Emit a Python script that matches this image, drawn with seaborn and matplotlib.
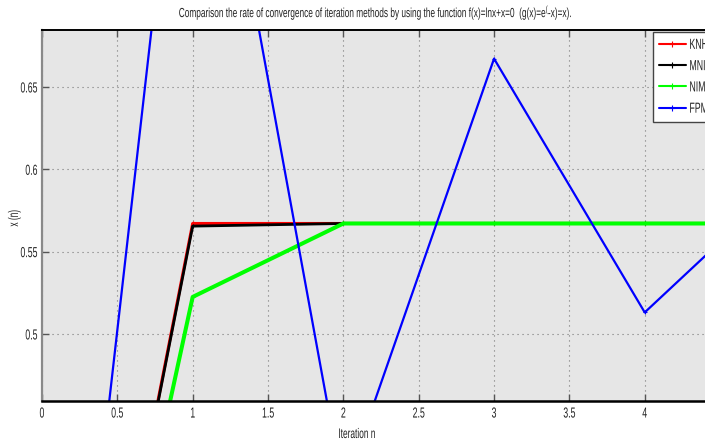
import matplotlib
matplotlib.use("Agg")
import matplotlib.pyplot as plt
import matplotlib.ticker as mticker
from matplotlib.patheffects import AbstractPathEffect
from matplotlib.transforms import Affine2D
import seaborn as sns
import pandas as pd

# Iteration index and the iterates x(n) of each method
iterations = [0, 1, 2, 3, 4, 5]
knhm = [0.1, 0.5671, 0.5671, 0.5671, 0.5671, 0.5671]
mnim = [0.1, 0.5655, 0.5671, 0.5671, 0.5671, 0.5671]
nim = [0.1, 0.5225, 0.5671, 0.5671, 0.5671, 0.5671]
fpm = [0.1, 0.9048, 0.4046, 0.6672, 0.5131, 0.5986]

method_names = ["KNHM", "MNIM", "NIM", "FPM"]
x_ticks = [0, 0.5, 1, 1.5, 2, 2.5, 3, 3.5, 4]
y_ticks = [0.5, 0.55, 0.6, 0.65]

TITLE = ("Comparison the rate of convergence of iteration methods by using the function "
         r"f(x)=lnx+x=0  (g(x)=$\mathregular{e^(}$-x)=x).")


class Narrow(AbstractPathEffect):
    """Squeeze text glyphs horizontally (along the text direction)."""

    def __init__(self, sx, anchor="center"):
        super().__init__()
        self.sx = sx
        self.anchor = anchor

    def draw_path(self, renderer, gc, tpath, affine, rgbFace=None):
        ext = tpath.get_extents()
        if self.anchor == "left":
            cx = 0.0
        elif self.anchor == "right":
            cx = ext.x1
        else:
            cx = 0.5 * (ext.x0 + ext.x1)
        tr = Affine2D().translate(-cx, 0).scale(self.sx, 1).translate(cx, 0) + affine
        renderer.draw_path(gc, tpath, tr, rgbFace)


sns.set_theme(style="white")
FONT = ["Liberation Sans", "DejaVu Sans"]
plt.rcParams["font.family"] = FONT
plt.rcParams["mathtext.default"] = "regular"
SX = 0.6

W, H = 705, 442
fig = plt.figure(figsize=(W / 100, H / 100), dpi=100)
ax = fig.add_axes([42 / W, 1 - 401 / H, 1 - 42 / W, (401 - 29.5) / H])
ax.set_facecolor("#e6e6e6")

series = {"KNHM": knhm, "MNIM": mnim, "NIM": nim, "FPM": fpm}
styles = {
    "KNHM": dict(color="#ff0000", lw=2.2),
    "MNIM": dict(color="#000000", lw=2.0),
    "NIM": dict(color="#00ff00", lw=2.9),
    "FPM": dict(color="#0000ff", lw=1.6),
}
for name in method_names:
    df = pd.DataFrame({"n": iterations, "x": series[name]})
    st = styles[name]
    sns.lineplot(data=df, x="n", y="x", ax=ax, color=st["color"], linewidth=st["lw"],
                 marker="+", markersize=3, markeredgewidth=0.8, label=name,
                 markeredgecolor=st["color"])

ax.set_xlim(0, 4.40)
ax.set_ylim(0.4593, 0.6849)
ax.set_xticks(x_ticks)
ax.set_yticks(y_ticks)
ax.xaxis.set_major_formatter(mticker.FuncFormatter(lambda v, p: f"{v:g}"))
ax.yaxis.set_major_formatter(mticker.FuncFormatter(lambda v, p: f"{v:g}"))

ax.grid(True, linestyle=(0, (1, 3.5)), color="#777777", linewidth=0.8)
ax.tick_params(axis="both", direction="in", length=5, width=1, color="#555555",
               labelsize=10.5, labelcolor="#222222", top=True, right=False,
               bottom=True, left=True)
ax.tick_params(axis="x", pad=4)
ax.tick_params(axis="y", pad=3)

for side in ["top", "bottom"]:
    ax.spines[side].set_color("black")
ax.spines["bottom"].set_linewidth(1.8)
ax.spines["top"].set_linewidth(1.4)
ax.spines["left"].set_color("#8a8a8a")
ax.spines["left"].set_linewidth(1.6)
ax.spines["right"].set_visible(False)

ax.set_xlabel("Iteration n", fontsize=10, color="#222222")
ax.set_ylabel("x (n)", fontsize=10, color="#222222")
ax.xaxis.label.set_va("center")
ax.yaxis.label.set_va("center")
ax.xaxis.set_label_coords((357 - 42) / 663, (401 - 434) / 371.5)
ax.yaxis.set_label_coords((14 - 42) / 663, (401 - 218) / 371.5)

title = fig.text(377 / W, 1 - 13 / H, TITLE, ha="center", va="center", fontsize=9.5,
                 color="#222222")

leg = ax.legend(loc="upper left", bbox_to_anchor=(653 / W, 1 - 32 / H),
                bbox_transform=fig.transFigure, frameon=True, fancybox=False,
                edgecolor="#444444", facecolor="white", framealpha=1,
                fontsize=10.5, handlelength=1.85, handletextpad=0.25,
                labelspacing=0.5, borderpad=0.4, borderaxespad=0)
leg.get_frame().set_linewidth(1.0)
for t in leg.get_texts():
    t.set_color("#222222")
for h in leg.get_lines():
    h.set_linewidth(1.5)
    h.set_markersize(5)

# squeeze every text along its baseline
fig.canvas.draw()
title_w = title.get_window_extent().width
title.set_path_effects([Narrow(395 / title_w, "center")])
for tk in ax.xaxis.get_major_ticks():
    tk.label1.set_path_effects([Narrow(SX, "center")])
for tk in ax.yaxis.get_major_ticks():
    tk.label1.set_path_effects([Narrow(SX, "right")])
ax.xaxis.label.set_path_effects([Narrow(SX, "center")])
ax.yaxis.label.set_path_effects([Narrow(SX, "center")])
for t in leg.get_texts():
    t.set_path_effects([Narrow(SX, "left")])

fig.savefig("out.png", dpi=100)
